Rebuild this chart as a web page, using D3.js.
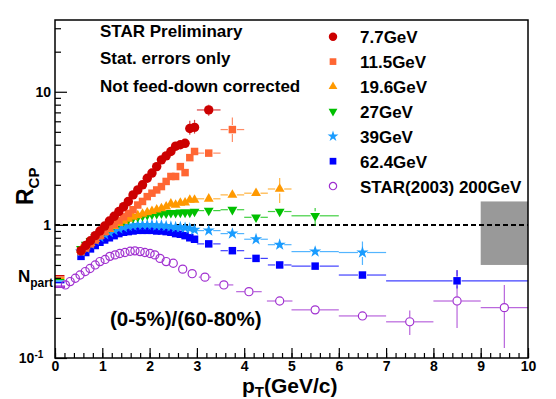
<!DOCTYPE html>
<html>
<head>
<meta charset="utf-8">
<script src="https://cdn.jsdelivr.net/npm/d3@7"></script>
<style>
body { margin: 0; background: #fff; }
text { font-family: "Liberation Sans", Arial, Helvetica, sans-serif; font-weight: bold; }
</style>
</head>
<body>
<div id="chart"></div>
<script>
// ----------------
// R_CP vs pT, STAR BES
// ----------------

const labels = ["7.7GeV", "11.5GeV", "19.6GeV", "27GeV", "39GeV", "62.4GeV", "STAR(2003) 200GeV"];
const infoText = ["STAR Preliminary", "Stat. errors only", "Not feed-down corrected"];
const centText = "(0-5%)/(60-80%)";

// fine 0.1 GeV bins (shared pT centres)
const ptFine = [0.55, 0.65, 0.75, 0.85, 0.95, 1.05, 1.15, 1.25, 1.35, 1.45, 1.55, 1.65, 1.75,
    1.85, 1.95, 2.05, 2.15, 2.25, 2.35, 2.45, 2.55, 2.65, 2.75, 2.85, 2.95];

const r7p7 = [0.64, 0.70, 0.76, 0.83, 0.90, 0.98, 1.07, 1.16, 1.26, 1.37, 1.50, 1.68, 1.83,
    2.00, 2.24, 2.45, 2.74, 3.08, 3.30, 3.56, 3.90, 4.00, 4.10];
const r11p5 = [0.63, 0.67, 0.72, 0.77, 0.83, 0.89, 0.95, 1.01, 1.08, 1.15, 1.22, 1.30, 1.41,
    1.50, 1.63, 1.73, 1.83, 1.94, 2.12, 2.31, 2.31, 2.74, 2.47, 3.20, 3.56];
const r19p6 = [0.65, 0.69, 0.73, 0.78, 0.83, 0.88, 0.93, 0.98, 1.03, 1.07, 1.11, 1.15, 1.18,
    1.21, 1.24, 1.27, 1.30, 1.33, 1.37, 1.44, 1.41, 1.46, 1.47, 1.54, 1.54];
const r27 = [0.66, 0.71, 0.76, 0.81, 0.86, 0.91, 0.96, 1.00, 1.04, 1.07, 1.10, 1.13, 1.15,
    1.17, 1.19, 1.20, 1.21, 1.22, 1.22, 1.23, 1.23, 1.24, 1.24, 1.24, 1.26];
const r39 = [0.63, 0.67, 0.72, 0.77, 0.81, 0.85, 0.88, 0.91, 0.94, 0.96, 0.98, 0.99, 1.00,
    1.00, 1.00, 1.00, 0.99, 0.99, 0.98, 0.97, 0.96, 0.96, 0.95, 0.94, 0.92];
const r62p4 = [0.58, 0.62, 0.66, 0.70, 0.74, 0.77, 0.80, 0.83, 0.86, 0.88, 0.89, 0.90, 0.91,
    0.91, 0.91, 0.91, 0.90, 0.90, 0.89, 0.88, 0.86, 0.85, 0.83, 0.80, 0.78];

// wide bins: [pT, R, xErr, yErrDown, yErrUp]
const tail7p7 = [[2.85, 5.3, 0.05, 0.55, 0.75], [2.95, 5.4, 0.05, 0.55, 0.75], [3.25, 7.3, 0.25, 0.7, 0.7]];
const tail11p5 = [[3.25, 3.46, 0.25, 0.25, 0.25], [3.75, 5.2, 0.25, 1.0, 1.2]];
const tail19p6 = [[3.25, 1.57, 0.25, 0.05, 0.05], [3.75, 1.68, 0.25, 0.07, 0.07],
    [4.25, 1.73, 0.25, 0.12, 0.12], [4.75, 1.86, 0.25, 0.4, 0.39]];
const tail27 = [[3.25, 1.28, 0.25, 0.03, 0.03], [3.75, 1.30, 0.25, 0.05, 0.05],
    [4.25, 1.14, 0.25, 0.07, 0.07], [4.75, 1.26, 0.25, 0.09, 0.09], [5.5, 1.17, 0.5, 0.19, 0.17]];
const tail39 = [[3.25, 0.906, 0.25, 0.02, 0.02], [3.75, 0.86, 0.25, 0.03, 0.03],
    [4.25, 0.78, 0.25, 0.03, 0.03], [4.75, 0.71, 0.25, 0.03, 0.03], [5.5, 0.63, 0.5, 0.03, 0.03],
    [6.5, 0.62, 0.5, 0.12, 0.13]];
const tail62p4 = [[3.25, 0.72, 0.25, 0.01, 0.01], [3.75, 0.64, 0.25, 0.01, 0.01],
    [4.25, 0.56, 0.25, 0.015, 0.015], [4.75, 0.50, 0.25, 0.015, 0.015], [5.5, 0.49, 0.5, 0.02, 0.02],
    [6.5, 0.42, 0.5, 0.03, 0.03], [8.5, 0.38, 1.5, 0.047, 0.077]];

// STAR 2003, 200 GeV
const pt200 = [0.22, 0.32, 0.43, 0.53, 0.64, 0.74, 0.85, 0.95, 1.06, 1.16, 1.27, 1.37, 1.48,
    1.59, 1.69, 1.80, 1.90, 2.01, 2.11, 2.22, 2.35];
const r200 = [0.354, 0.375, 0.397, 0.42, 0.446, 0.47, 0.50, 0.53, 0.55, 0.58, 0.595, 0.61, 0.62,
    0.634, 0.638, 0.63, 0.62, 0.61, 0.595, 0.56, 0.53];
const tail200 = [[2.5, 0.515, 0.05, 0.01, 0.01], [2.7, 0.465, 0.1, 0.01, 0.01], [2.9, 0.43, 0.1, 0.01, 0.01],
    [3.17, 0.405, 0.13, 0.01, 0.01], [3.57, 0.354, 0.2, 0.01, 0.01], [4.1, 0.315, 0.27, 0.012, 0.012],
    [4.75, 0.268, 0.27, 0.01, 0.01], [5.5, 0.23, 0.5, 0.01, 0.01], [6.5, 0.207, 0.5, 0.012, 0.012],
    [7.5, 0.187, 0.5, 0.038, 0.04], [8.5, 0.268, 0.5, 0.10, 0.19], [9.5, 0.239, 0.5, 0.12, 0.115]];

// N_part scaling level per energy (drawn at pT 0-0.2)
const nPart = [0.415, 0.405, 0.397, 0.388, 0.378, 0.368, 0.343];
// grey normalisation box
const boxPt = [9, 10];
const boxR = [0.5, 1.5];

const colors = ["#cc0000", "#ff6633", "#ff9900", "#00c000", "#1a9cff", "#0000ff", "#a030d0"];

// set the dimensions and margins
const margin = { top: 20, right: 28, bottom: 41, left: 55 },
    width = 556 - margin.left - margin.right,
    height = 399 - margin.top - margin.bottom;

const svgRoot = d3.select("#chart")
    .append("svg")
    .attr("width", 556)
    .attr("height", 399);

const svg = svgRoot.append("g")
    .attr("transform", `translate(${margin.left},${margin.top})`);

svgRoot.append("defs").append("clipPath").attr("id", "plotClip")
    .append("rect").attr("width", width).attr("height", height);

const x = d3.scaleLinear().domain([0, 10]).range([0, width]);
const y = d3.scaleLog().domain([0.1, 34.6]).range([height, 0]);

// grey box
svg.append("rect")
    .attr("x", x(boxPt[0]))
    .attr("width", x(boxPt[1]) - x(boxPt[0]))
    .attr("y", y(boxR[1]))
    .attr("height", y(boxR[0]) - y(boxR[1]))
    .attr("fill", "#999999");

// dashed unity line
svg.append("line")
    .attr("x1", 0).attr("x2", width)
    .attr("y1", y(1)).attr("y2", y(1))
    .attr("stroke", "#000").attr("stroke-width", 2)
    .attr("stroke-dasharray", "5,3");

// N_part boxes
nPart.forEach((v, i) => {
    svg.append("rect")
        .attr("x", x(0))
        .attr("width", x(0.2) - x(0))
        .attr("y", y(v * 1.012))
        .attr("height", y(v / 1.012) - y(v * 1.012))
        .attr("fill", i == 6 ? "none" : colors[i])
        .attr("stroke", i == 6 ? colors[i] : "none")
        .attr("stroke-width", 1.2);
});

// symbols
const sym = [
    { type: d3.symbolCircle, size: 70, rot: 0, open: false },
    { type: d3.symbolSquare, size: 56, rot: 0, open: false },
    { type: d3.symbolTriangle, size: 42, rot: 0, open: false },
    { type: d3.symbolTriangle, size: 42, rot: 180, open: false },
    { type: d3.symbolStar, size: 46, rot: 0, open: false },
    { type: d3.symbolSquare, size: 56, rot: 0, open: false },
    { type: d3.symbolCircle, size: 52, rot: 0, open: true }
];

const series = [
    d3.zip(ptFine, r7p7).map(d => [d[0], d[1], 0.05, 0, 0]).concat(tail7p7),
    d3.zip(ptFine, r11p5).map(d => [d[0], d[1], 0.05, 0, 0]).concat(tail11p5),
    d3.zip(ptFine, r19p6).map(d => [d[0], d[1], 0.05, 0, 0]).concat(tail19p6),
    d3.zip(ptFine, r27).map(d => [d[0], d[1], 0.05, 0, 0]).concat(tail27),
    d3.zip(ptFine, r39).map(d => [d[0], d[1], 0.05, 0, 0]).concat(tail39),
    d3.zip(ptFine, r62p4).map(d => [d[0], d[1], 0.05, 0, 0]).concat(tail62p4),
    d3.zip(pt200, r200).map(d => [d[0], d[1], 0.05, 0, 0]).concat(tail200)
];

const plot = svg.append("g").attr("clip-path", "url(#plotClip)");

// draw from the 200 GeV set up to 7.7 so low energies sit on top
[6, 5, 4, 3, 2, 1, 0].forEach(i => {
    const g = plot.append("g");
    const gap = 4.5;
    // error bars (with a gap around the marker)
    series[i].forEach(d => {
        const cx = x(d[0]), cy = y(d[1]);
        const segs = [
            [x(d[0] - d[2]), cy, cx - gap, cy],
            [cx + gap, cy, x(d[0] + d[2]), cy],
            [cx, y(d[1] + d[4]), cx, cy - gap],
            [cx, cy + gap, cx, y(Math.max(d[1] - d[3], 0.01))]
        ];
        segs.forEach(s => {
            if ((s[2] - s[0]) + (s[3] - s[1]) > 0.5) {
                g.append("line")
                    .attr("x1", s[0]).attr("y1", s[1]).attr("x2", s[2]).attr("y2", s[3])
                    .attr("stroke", colors[i])
                    .attr("stroke-opacity", 0.75)
                    .attr("stroke-width", 1.2);
            }
        });
    });
    g.selectAll("path.mk")
        .data(series[i])
        .join("path")
        .attr("class", "mk")
        .attr("d", d3.symbol().type(sym[i].type).size(sym[i].size))
        .attr("transform", d => `translate(${x(d[0])},${y(d[1])}) rotate(${sym[i].rot})`)
        .attr("fill", sym[i].open ? "none" : colors[i])
        .attr("stroke", sym[i].open ? colors[i] : "none")
        .attr("stroke-width", 1.2);
});

// X axis (ticks inside the frame)
svg.append("g")
    .attr("transform", `translate(0,${height})`)
    .call(d3.axisBottom(x).ticks(10).tickSizeInner(-10).tickSizeOuter(0).tickPadding(3))
    .call(g => g.select(".domain").remove())
    .call(g => g.selectAll("text").style("font-size", "14px").attr("fill", "#000"));
svg.append("g")
    .attr("transform", `translate(0,${height})`)
    .call(d3.axisBottom(x).tickValues(d3.range(0, 10.01, 0.2)).tickSizeInner(-5).tickSizeOuter(0).tickFormat(""))
    .call(g => g.select(".domain").remove());

// Y axis (log)
svg.append("g")
    .call(d3.axisLeft(y).tickValues([0.1, 1, 10]).tickSizeInner(-12).tickSizeOuter(0).tickPadding(4)
        .tickFormat(d => d == 0.1 ? "10" : d3.format("d")(d)))
    .call(g => g.select(".domain").remove())
    .call(g => g.selectAll("text").style("font-size", "14px").attr("fill", "#000"))
    .call(g => g.selectAll(".tick").filter(d => d == 0.1).select("text")
        .attr("dx", "-0.55em")
        .append("tspan").attr("dy", "-0.45em").style("font-size", "10px").text("-1"));
svg.append("g")
    .call(d3.axisLeft(y).tickValues(y.ticks().filter(v => [0.1, 1, 10].indexOf(v) < 0))
        .tickSizeInner(-6).tickSizeOuter(0).tickFormat(""))
    .call(g => g.select(".domain").remove());

svg.selectAll(".tick line").attr("stroke", "#000").attr("stroke-width", 1.2);

// frame
svg.append("rect")
    .attr("width", width).attr("height", height)
    .attr("fill", "none").attr("stroke", "#000").attr("stroke-width", 1.5);

// axis titles
const xt = svgRoot.append("text")
    .attr("x", 242).attr("y", 393)
    .style("font-size", "21px");
xt.append("tspan").text("p");
xt.append("tspan").attr("dy", 4).style("font-size", "15px").text("T");
xt.append("tspan").attr("dy", -4).text("(GeV/c)");

const yt = svgRoot.append("text")
    .attr("transform", "translate(33,205) rotate(-90)")
    .style("font-size", "23px");
yt.append("tspan").text("R");
yt.append("tspan").attr("dy", 6).style("font-size", "15px").text("CP");

const np = svgRoot.append("text")
    .attr("x", 18).attr("y", 282)
    .style("font-size", "17px");
np.append("tspan").text("N");
np.append("tspan").attr("dy", 5).style("font-size", "12px").text("part");

// info texts
infoText.forEach((t, i) => {
    svgRoot.append("text")
        .attr("x", 100).attr("y", 37 + i * 27.3)
        .style("font-size", "17px")
        .text(t);
});

svgRoot.append("text")
    .attr("x", 110).attr("y", 326)
    .style("font-size", "20.5px")
    .text(centText);

// legend
labels.forEach((t, i) => {
    const cy = 36.7 + i * 24.9;
    svgRoot.append("path")
        .attr("d", d3.symbol().type(sym[i].type).size(sym[i].size * 0.8)())
        .attr("transform", `translate(333,${cy}) rotate(${sym[i].rot})`)
        .attr("fill", sym[i].open ? "none" : colors[i])
        .attr("stroke", sym[i].open ? colors[i] : "none")
        .attr("stroke-width", 1.2);
    svgRoot.append("text")
        .attr("x", 360).attr("y", cy + 6.5)
        .style("font-size", "17px")
        .text(t);
});
</script>
</body>
</html>
